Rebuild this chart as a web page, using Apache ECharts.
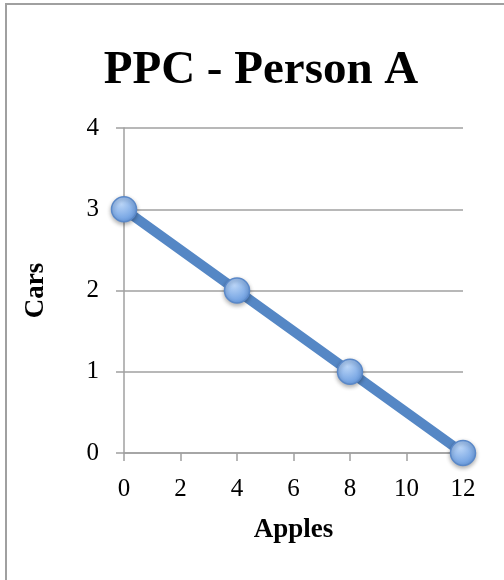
<!DOCTYPE html>
<html>
<head>
<meta charset="utf-8">
<script src="https://cdn.jsdelivr.net/npm/echarts@6/dist/echarts.min.js"></script>
<style>
html,body{margin:0;padding:0;background:#fff;}
#chart{width:504px;height:580px;}
</style>
</head>
<body>
<div id="chart"></div>
<script>
var titleText = 'PPC - Person A';
var xAxisName = 'Apples';
var yAxisName = 'Cars';
var apples = [0, 4, 8, 12];
var cars = [3, 2, 1, 0];

var chart = echarts.init(document.getElementById('chart'), null, {renderer: 'canvas'});
var points = apples.map(function (a, i) { return [a, cars[i]]; });
var serif = '"Liberation Serif", "DejaVu Serif", serif';

chart.setOption({
  backgroundColor: '#fff',
  animation: false,
  title: {
    text: titleText,
    left: 256,
    textAlign: 'center',
    top: 42,
    textStyle: {fontFamily: serif, fontWeight: 'bold', fontSize: 47, color: '#000'}
  },
  graphic: [
    {type: 'line', shape: {x1: 5, y1: 4, x2: 504, y2: 4}, style: {stroke: '#a0a0a0', lineWidth: 2}},
    {type: 'line', shape: {x1: 6, y1: 3, x2: 6, y2: 580}, style: {stroke: '#a0a0a0', lineWidth: 2}}
  ],
  grid: {left: 124, right: 41, top: 128, bottom: 127},
  xAxis: {
    type: 'value', min: 0, max: 12, interval: 2,
    name: xAxisName, nameLocation: 'middle', nameGap: 64,
    nameTextStyle: {fontFamily: serif, fontWeight: 'bold', fontSize: 27, color: '#000'},
    axisLine: {show: true, onZero: false, lineStyle: {color: '#a0a0a0', width: 1.5}},
    axisTick: {show: true, length: 8, lineStyle: {color: '#a0a0a0', width: 1.5}},
    axisLabel: {fontFamily: serif, fontSize: 25, color: '#000', margin: 24},
    splitLine: {show: false}
  },
  yAxis: {
    type: 'value', min: 0, max: 4, interval: 1,
    name: yAxisName, nameLocation: 'middle', nameGap: 74, nameRotate: 90,
    nameTextStyle: {fontFamily: serif, fontWeight: 'bold', fontSize: 27, color: '#000'},
    axisLine: {show: true, lineStyle: {color: '#a0a0a0', width: 1.5}},
    axisTick: {show: true, length: 8, lineStyle: {color: '#a0a0a0', width: 1.5}},
    axisLabel: {fontFamily: serif, fontSize: 25, color: '#000', margin: 25},
    splitLine: {show: true, lineStyle: {color: '#a0a0a0', width: 1.5}}
  },
  series: [{
    type: 'line',
    data: points,
    symbol: 'circle',
    symbolSize: 25,
    clip: false,
    lineStyle: {color: '#5587c5', width: 10},
    itemStyle: {
      color: new echarts.graphic.RadialGradient(0.4, 0.3, 0.8, [
        {offset: 0, color: '#bad5f7'},
        {offset: 1, color: '#5d93dc'}
      ]),
      borderColor: '#5a88c8',
      borderWidth: 1.5,
      shadowColor: 'rgba(0,0,0,0.3)',
      shadowBlur: 4,
      shadowOffsetY: 2
    },
    z: 3
  }]
});
</script>
</body>
</html>
